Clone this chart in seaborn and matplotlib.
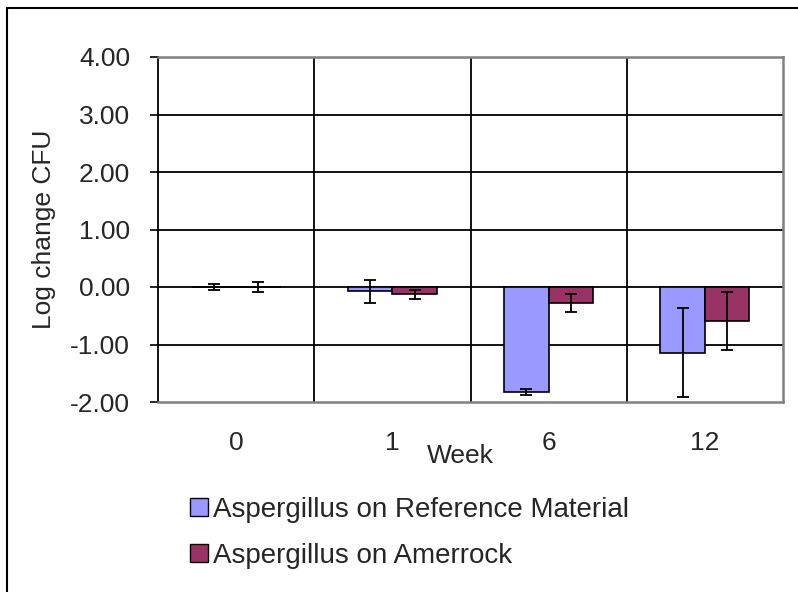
import numpy as np
import pandas as pd
import seaborn as sns
import matplotlib.pyplot as plt
from matplotlib.patches import Rectangle

weeks = ["0", "1", "6", "12"]
series = ["Aspergillus on Reference Material", "Aspergillus on Amerrock"]
ref_mean = [0.00, -0.07, -1.82, -1.14]
ref_err = [0.05, 0.20, 0.05, 0.77]
amr_mean = [0.00, -0.13, -0.28, -0.59]
amr_err = [0.09, 0.07, 0.16, 0.50]
colors = ["#9999FF", "#993366"]

df = pd.DataFrame({
    "Week": weeks * 2,
    "Series": [series[0]] * 4 + [series[1]] * 4,
    "Value": ref_mean + amr_mean,
})
errs = [ref_err, amr_err]
means = [ref_mean, amr_mean]

sns.set_style("white")
plt.rcParams["font.family"] = ["Liberation Sans", "DejaVu Sans"]

fig = plt.figure(figsize=(7.98, 5.92), dpi=100)
ax = fig.add_axes([158 / 798, 1 - 402 / 592, 625 / 798, 345 / 592])

sns.barplot(data=df, x="Week", y="Value", hue="Series", order=weeks,
            hue_order=series, palette=colors, width=0.57, errorbar=None,
            edgecolor="black", linewidth=1.2, saturation=1, ax=ax, legend=False,
            zorder=3)

# error bars at bar centres
for cont, m, e in zip(ax.containers, means, errs):
    xs = [p.get_x() + p.get_width() / 2 for p in cont.patches]
    ax.errorbar(xs, m, yerr=e, fmt="none", ecolor="black", elinewidth=1.3,
                capsize=4.5, capthick=1.3, zorder=4)

ax.set_ylim(-2, 4)
ax.set_xlim(-0.5, 3.5)
ax.set_yticks(np.arange(-2, 5, 1))
ax.set_yticklabels([f"{v:.2f}" for v in np.arange(-2, 5, 1)])
for y in range(-1, 4):
    ax.axhline(y, color="black", lw=1.3, zorder=1)
for x in [0.5, 1.5, 2.5]:
    ax.axvline(x, color="black", lw=1.3, zorder=1)

ax.tick_params(axis="y", which="major", left=True, length=6, width=1.2,
               direction="out", pad=14, labelsize=19, color="black")
ax.tick_params(axis="x", length=0, pad=21, labelsize=19)

ax.spines["left"].set_color("black")
ax.spines["left"].set_linewidth(1.3)
for s in ["top", "right", "bottom"]:
    ax.spines[s].set_color("#808080")
    ax.spines[s].set_linewidth(1.8)

ax.set_ylabel("Log change CFU", fontsize=19, labelpad=10)
ax.set_xlabel("Week", fontsize=19, va="center")
ax.xaxis.set_label_coords(0.483, -0.157)

handles = [Rectangle((0, 0), 1, 1, facecolor=c, edgecolor="black", lw=1.0)
           for c in colors]
fig.legend(handles, series, loc="upper left",
           bbox_to_anchor=(190 / 798, 1 - 497 / 592), frameon=False,
           fontsize=20, handlelength=0.65, handleheight=0.6,
           handletextpad=0.18, labelspacing=0.72, borderaxespad=0,
           borderpad=0)

# outer chart border (clipped at right and bottom)
fig.patches.append(Rectangle((7 / 798, -0.1), 1.2, 1 - 8 / 592 + 0.1,
                             transform=fig.transFigure, fill=False,
                             edgecolor="black", lw=1.5))

fig.savefig("out.png", dpi=100)
